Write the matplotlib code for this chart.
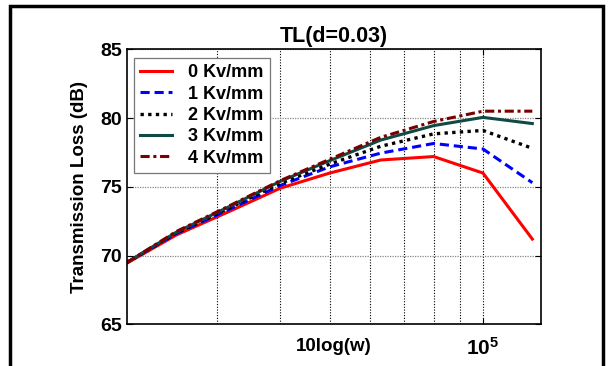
import matplotlib
matplotlib.use('Agg')
import matplotlib.pyplot as plt
from matplotlib.patches import Rectangle

plt.rcParams['font.family'] = ['Liberation Sans', 'DejaVu Sans']
plt.rcParams['font.weight'] = 'bold'
plt.rcParams['mathtext.fontset'] = 'custom'
plt.rcParams['mathtext.rm'] = 'Liberation Sans:bold'
plt.rcParams['mathtext.it'] = 'Liberation Sans:bold'
plt.rcParams['mathtext.bf'] = 'Liberation Sans:bold'

# one-third octave band centres
freq = [2e4, 2.5e4, 3.15e4, 4e4, 5e4, 6.3e4, 8e4, 1e5, 1.25e5]
tl_0 = [69.45, 71.5, 73.15, 74.9, 76.0, 76.95, 77.2, 76.0, 71.2]
tl_1 = [69.5, 71.6, 73.3, 75.1, 76.45, 77.45, 78.15, 77.75, 75.3]
tl_2 = [69.5, 71.65, 73.4, 75.25, 76.65, 77.95, 78.85, 79.1, 77.8]
tl_3 = [69.5, 71.7, 73.5, 75.4, 76.9, 78.4, 79.45, 80.05, 79.6]
tl_4 = [69.5, 71.75, 73.55, 75.45, 77.0, 78.6, 79.75, 80.5, 80.5]
labels = ['0 Kv/mm', '1 Kv/mm', '2 Kv/mm', '3 Kv/mm', '4 Kv/mm']

fig = plt.figure(figsize=(6.08, 3.66), dpi=100)
ax = fig.add_axes([0.2089, 0.1139, 0.6809, 0.7514])

ax.plot(freq, tl_0, color='#ff0000', lw=2.2, ls='-', label=labels[0])
ax.plot(freq, tl_1, color='#0000ff', lw=2.2, ls=(0, (3, 1.6)), label=labels[1])
ax.plot(freq, tl_2, color='#000000', lw=2.4, ls=(0, (1, 1.3)), label=labels[2])
ax.plot(freq, tl_3, color='#0f4a45', lw=2.2, ls='-', label=labels[3])
ax.plot(freq, tl_4, color='#7a0000', lw=2.2, ls=(0, (3, 1.2, 1, 1.2)), label=labels[4])

ax.set_xscale('log')
ax.set_xlim(2e4, 1.3e5)
ax.set_ylim(65, 85)
ax.set_yticks([65, 70, 75, 80, 85])
ax.set_xticks([1e5])
ax.set_xticklabels(['$10^5$'])
ax.set_xticks([3e4, 4e4, 5e4, 6e4, 7e4, 8e4, 9e4], minor=True)
ax.xaxis.set_minor_formatter(plt.NullFormatter())

ax.grid(True, which='both', axis='x', color='black', ls=(0, (1, 1.5)), lw=0.8)
ax.grid(True, which='major', axis='y', color='#888888', ls=(0, (1, 1)), lw=0.9)
ax.tick_params(which='both', direction='in', top=True, right=True, labelsize=14)
ax.tick_params(axis='x', which='major', pad=9, labelsize=15)
ax.tick_params(which='major', length=4)
ax.tick_params(which='minor', length=0)
for s in ax.spines.values():
    s.set_linewidth(1.2)

ax.set_title('TL(d=0.03)', fontsize=15.5, fontweight='bold', pad=5)
ax.set_ylabel('Transmission Loss (dB)', fontsize=13.5, fontweight='bold')
ax.yaxis.set_label_coords(-0.095, 0.5)
ax.set_xlabel('10log(w)', fontsize=13.5, fontweight='bold')
ax.xaxis.set_label_coords(0.5, -0.05)

leg = ax.legend(loc='upper left', bbox_to_anchor=(0.017, 0.968), borderaxespad=0,
                fancybox=False, framealpha=1, edgecolor='#777777', fontsize=13,
                handlelength=1.75, labelspacing=0.24, handletextpad=0.9,
                borderpad=0.35)
leg.get_frame().set_linewidth(0.9)

fig.patches.append(Rectangle((10 / 608, -0.1), 593 / 608, 1 - 6 / 366 + 0.1,
                             transform=fig.transFigure, fill=False, lw=2.5,
                             edgecolor='black'))

fig.savefig('out.png', dpi=100)
